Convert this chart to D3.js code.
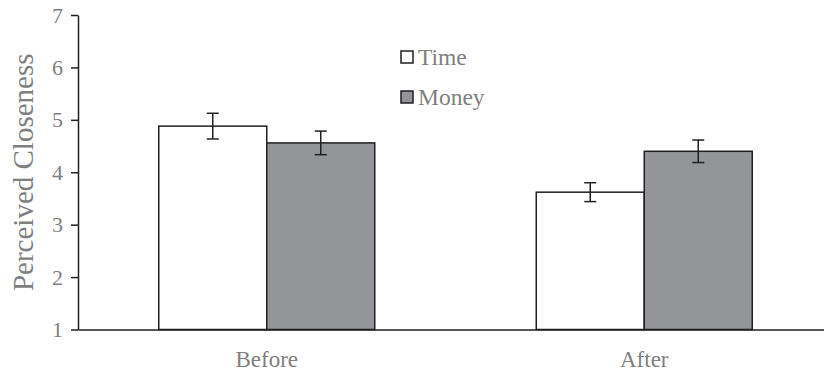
<!DOCTYPE html>
<html>
<head>
<meta charset="utf-8">
<script src="https://cdn.jsdelivr.net/npm/d3@7"></script>
<style>
  html, body { margin: 0; padding: 0; background: #fff; }
  svg { display: block; }
</style>
</head>
<body>
<script>
// Perceived closeness by phase and condition
const categories = ["Before", "After"];
const seriesNames = ["Time", "Money"];
const timeMeans = [4.88, 3.62];
const moneyMeans = [4.56, 4.40];
const timeErr = [0.245, 0.18];
const moneyErr = [0.225, 0.215];
const yTicks = [1, 2, 3, 4, 5, 6, 7];

const W = 824, H = 371;
const margin = { left: 78, top: 15, bottom: 41.5 };
const ink = "#231f20";
const labelColor = "#7f7f7f";
const serif = "'Liberation Serif', 'Times New Roman', serif";
const fills = { Time: "#ffffff", Money: "#939598" };

const rows = categories.map((c, i) => ({
  cat: c,
  values: [
    { key: "Time", mean: timeMeans[i], err: timeErr[i] },
    { key: "Money", mean: moneyMeans[i], err: moneyErr[i] }
  ]
}));

const svg = d3.select("body").append("svg")
  .attr("width", W).attr("height", H);

const y = d3.scaleLinear().domain([1, 7]).range([H - margin.bottom, margin.top]);
const x0 = d3.scaleBand().domain(categories).range([margin.left, 833]).paddingInner(0).paddingOuter(0);
const groupW = 216;
const x1 = d3.scaleBand().domain(seriesNames).range([0, groupW]);

// bars
const groups = svg.append("g").selectAll("g").data(rows).join("g")
  .attr("transform", d => `translate(${x0(d.cat) + (x0.bandwidth() - groupW) / 2},0)`);

groups.selectAll("rect").data(d => d.values).join("rect")
  .attr("x", d => x1(d.key))
  .attr("y", d => y(d.mean))
  .attr("width", x1.bandwidth())
  .attr("height", d => y(1) - y(d.mean))
  .attr("fill", d => fills[d.key])
  .attr("stroke", ink)
  .attr("stroke-width", 1.5);

// error bars
const eb = groups.selectAll("g.err").data(d => d.values).join("g").attr("class", "err")
  .attr("stroke", ink).attr("stroke-width", 1.5);
eb.append("line")
  .attr("x1", d => x1(d.key) + x1.bandwidth() / 2)
  .attr("x2", d => x1(d.key) + x1.bandwidth() / 2)
  .attr("y1", d => y(d.mean + d.err))
  .attr("y2", d => y(d.mean - d.err));
[1, -1].forEach(s => {
  eb.append("line")
    .attr("x1", d => x1(d.key) + x1.bandwidth() / 2 - 6)
    .attr("x2", d => x1(d.key) + x1.bandwidth() / 2 + 6)
    .attr("y1", d => y(d.mean + s * d.err))
    .attr("y2", d => y(d.mean + s * d.err));
});

// y axis
const yAxis = svg.append("g")
  .attr("transform", `translate(${margin.left},0)`)
  .call(d3.axisLeft(y).tickValues(yTicks).tickFormat(d3.format("d")).tickSize(7).tickSizeOuter(0).tickPadding(8));
yAxis.select(".domain").attr("stroke", ink).attr("stroke-width", 1.5);
yAxis.selectAll(".tick line").attr("stroke", ink).attr("stroke-width", 1.5);
yAxis.selectAll(".tick text")
  .attr("fill", labelColor)
  .style("font-family", serif)
  .style("font-size", "22px");

// x axis
const xAxis = svg.append("g")
  .attr("transform", `translate(0,${y(1)})`)
  .call(d3.axisBottom(x0).tickSize(0).tickPadding(21));
xAxis.select(".domain").attr("stroke", ink).attr("stroke-width", 1.5);
xAxis.selectAll(".tick text")
  .attr("fill", labelColor)
  .style("font-family", serif)
  .style("font-size", "23px");

// y title
svg.append("text")
  .attr("transform", `translate(33,${(y(1) + y(7)) / 2}) rotate(-90)`)
  .attr("text-anchor", "middle")
  .attr("fill", labelColor)
  .style("font-family", serif)
  .style("font-size", "29px")
  .text("Perceived Closeness");

// legend
const legend = svg.append("g").attr("transform", "translate(401,51)");
const li = legend.selectAll("g").data(seriesNames).join("g")
  .attr("transform", (d, i) => `translate(0,${i * 40})`);
li.append("rect")
  .attr("width", 12).attr("height", 12)
  .attr("fill", d => fills[d]).attr("stroke", ink).attr("stroke-width", 1.5);
li.append("text")
  .attr("x", 17).attr("y", 14)
  .attr("fill", labelColor)
  .style("font-family", serif)
  .style("font-size", "23.5px")
  .text(d => d);
</script>
</body>
</html>
